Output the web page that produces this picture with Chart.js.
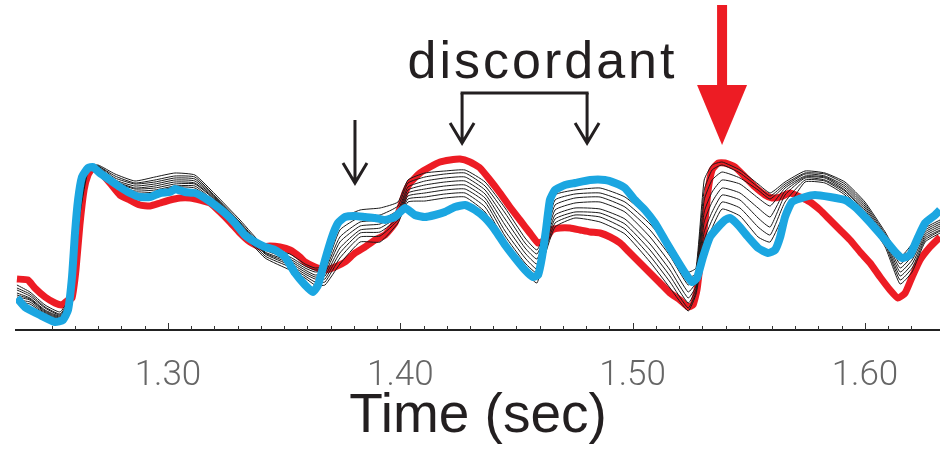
<!DOCTYPE html>
<html>
<head>
<meta charset="utf-8">
<script src="https://cdn.jsdelivr.net/npm/chart.js@4.4.1/dist/chart.umd.min.js"></script>
<style>
  body { margin: 0; background: #fff; }
  canvas { display: block; }
</style>
</head>
<body>
<canvas id="chartCanvas" width="940" height="453"></canvas>
<script>
// time axis (sec) and tick labels
const xMin = 1.2346;
const xMax = 1.6323;
const majorTicks = ['1.30', '1.40', '1.50', '1.60'];

// thick blue trace
const blueTime = [1.2350,1.2384,1.2449,1.2514,1.2548,1.2570,1.2587,1.2600,1.2613,1.2630,
  1.2656,1.2677,1.2707,1.2750,1.2793,1.2836,1.2879,1.2923,1.2966,1.3009,
  1.3030,1.3073,1.3116,1.3159,1.3202,1.3245,1.3288,1.3331,1.3375,1.3418,
  1.3461,1.3504,1.3547,1.3590,1.3624,1.3646,1.3676,1.3706,1.3732,1.3762,
  1.3805,1.3848,1.3891,1.3934,1.3977,1.4020,1.4063,1.4106,1.4149,1.4192,
  1.4235,1.4279,1.4322,1.4365,1.4408,1.4451,1.4494,1.4537,1.4571,1.4593,
  1.4610,1.4627,1.4644,1.4666,1.4709,1.4752,1.4817,1.4881,1.4924,1.4967,
  1.5010,1.5053,1.5096,1.5139,1.5183,1.5226,1.5256,1.5277,1.5303,1.5333,
  1.5368,1.5398,1.5419,1.5454,1.5497,1.5540,1.5583,1.5613,1.5635,1.5656,
  1.5686,1.5742,1.5785,1.5850,1.5914,1.5957,1.6000,1.6043,1.6087,1.6130,
  1.6160,1.6194,1.6229,1.6259,1.6302,1.6323];
const blueValue = [32,23,15,8,10,20,53,97,130,153,
  162,163,157,150,143,137,133,133,137,138,
  141,138,137,132,125,117,107,95,88,83,
  80,73,57,45,38,45,70,93,107,113,
  114,113,112,110,113,122,115,113,115,118,
  123,125,120,112,100,85,72,60,53,55,
  73,100,130,140,145,147,150,150,147,142,
  130,120,107,90,73,57,48,52,73,93,
  103,110,112,105,93,82,77,80,93,113,
  128,133,135,133,130,123,113,102,90,78,
  72,75,93,107,115,120];

// thick red trace
const redTime = [1.2350,1.2397,1.2427,1.2471,1.2514,1.2544,1.2570,1.2587,1.2604,1.2621,
  1.2639,1.2656,1.2677,1.2707,1.2750,1.2793,1.2836,1.2879,1.2923,1.2966,
  1.3009,1.3052,1.3095,1.3138,1.3181,1.3224,1.3267,1.3310,1.3353,1.3396,
  1.3439,1.3482,1.3525,1.3568,1.3590,1.3633,1.3676,1.3719,1.3762,1.3805,
  1.3848,1.3891,1.3934,1.3977,1.3999,1.4020,1.4042,1.4085,1.4128,1.4171,
  1.4214,1.4257,1.4300,1.4343,1.4386,1.4429,1.4472,1.4515,1.4558,1.4593,
  1.4623,1.4653,1.4687,1.4731,1.4774,1.4817,1.4860,1.4903,1.4946,1.4989,
  1.5032,1.5075,1.5118,1.5161,1.5204,1.5239,1.5260,1.5277,1.5294,1.5312,
  1.5325,1.5342,1.5368,1.5398,1.5441,1.5484,1.5527,1.5570,1.5600,1.5635,
  1.5678,1.5721,1.5764,1.5807,1.5850,1.5893,1.5936,1.5979,1.6022,1.6065,
  1.6108,1.6142,1.6173,1.6203,1.6237,1.6280,1.6323];
const redValue = [51,50,42,33,27,25,30,32,60,105,
  140,155,162,158,147,135,130,125,124,127,
  130,132,132,130,127,118,108,97,88,83,
  84,83,80,73,68,63,60,63,68,77,
  83,90,95,107,122,137,147,157,163,168,
  170,171,168,162,150,137,123,110,97,87,
  90,100,102,102,100,98,97,93,87,77,
  67,57,47,37,30,23,25,40,73,110,
  140,160,167,167,163,153,143,135,132,133,
  137,133,128,120,110,100,90,78,67,53,
  40,32,37,53,70,83,93];

// thin black traces, sampled on a shared time grid
const blackTime = [1.2350,1.2406,1.2471,1.2535,1.2570,1.2595,1.2621,1.2656,1.2699,1.2772,
  1.2858,1.2944,1.3030,1.3116,1.3202,1.3310,1.3418,1.3525,1.3590,1.3633,
  1.3676,1.3740,1.3827,1.3913,1.3990,1.4033,1.4106,1.4192,1.4279,1.4365,
  1.4451,1.4537,1.4588,1.4623,1.4666,1.4752,1.4860,1.4967,1.5075,1.5161,
  1.5239,1.5273,1.5308,1.5342,1.5385,1.5462,1.5540,1.5592,1.5656,1.5742,
  1.5828,1.5914,1.6000,1.6087,1.6151,1.6203,1.6259,1.6323];
const trace1 = [45,38,25,18,30,85,140,163,165,156,149,153,157,155,136,110,83,76,66,62,64,110,120,122,128,150,157,159,160,148,122,92,80,98,135,140,142,133,112,87,58,62,150,165,168,160,146,137,148,159,157,148,128,98,73,86,102,110];
const trace2 = [42,36,23,16,28,80,138,163,164,154,147,150,154,153,134,108,81,73,64,60,62,100,113,115,124,147,153,156,157,144,117,87,76,95,130,136,137,128,106,81,52,57,140,160,165,157,143,134,146,157,156,146,126,96,70,82,100,108];
const trace3 = [40,34,22,15,26,75,135,162,164,152,146,148,152,151,133,107,80,71,62,58,60,93,108,110,120,143,149,152,153,140,111,82,71,92,125,132,133,123,100,74,45,52,130,150,158,152,140,131,144,156,154,144,124,94,66,78,98,106];
const trace4 = [37,32,20,14,25,70,130,162,163,150,144,146,150,149,132,106,78,69,60,55,57,88,104,106,117,140,145,148,149,136,105,77,66,88,120,127,128,118,93,67,38,48,118,138,150,146,132,124,142,154,153,142,122,92,62,74,96,104];
const trace5 = [35,31,19,13,24,65,128,161,163,149,142,144,148,147,131,104,77,67,58,53,54,82,100,102,114,137,141,144,145,132,99,72,61,85,115,122,121,111,86,60,32,44,108,128,142,137,122,113,139,153,152,140,120,90,58,70,94,102];
const trace6 = [33,30,18,12,22,60,125,160,162,148,141,142,146,146,130,103,76,65,56,51,51,77,97,98,112,134,137,140,141,128,94,67,57,82,111,118,117,106,80,54,27,41,98,118,135,130,112,103,135,152,150,139,118,88,54,66,92,100];
const trace7 = [30,28,17,11,21,55,120,160,162,146,139,140,144,144,128,101,74,63,54,48,48,72,93,94,110,131,133,136,137,123,89,62,52,78,107,115,113,101,74,48,22,38,90,110,128,122,103,95,128,150,149,137,116,86,50,62,90,99];
const trace8 = [28,26,16,10,20,50,115,158,161,145,137,138,143,142,127,99,72,60,52,45,45,66,88,88,107,128,129,132,133,118,84,58,47,75,103,112,108,96,68,42,19,36,82,102,121,114,93,88,118,148,147,135,113,83,46,58,88,97];
const blackTraces = [trace1, trace2, trace3, trace4, trace5, trace6, trace7, trace8];

const toPoints = (ts, vs) => ts.map((t, i) => ({ x: t, y: vs[i] }));

const datasets = [
  { data: toPoints(blueTime, blueValue), borderColor: '#1ba6e1', borderWidth: 8, order: 0 },
  { data: toPoints(redTime, redValue), borderColor: '#ed1c24', borderWidth: 7, order: 2 }
];
blackTraces.forEach(tr => {
  datasets.push({ data: toPoints(blackTime, tr), borderColor: '#1a1a1a', borderWidth: 1, order: 1 });
});

function downArrow(ctx, px, top, tip) {
  ctx.beginPath();
  ctx.moveTo(px, top);
  ctx.lineTo(px, tip);
  ctx.moveTo(px - 12, tip - 20);
  ctx.lineTo(px, tip);
  ctx.lineTo(px + 12, tip - 20);
  ctx.stroke();
}

const annotate = {
  id: 'annotate',
  afterDraw(chart) {
    const { ctx, scales: { x, y } } = chart;
    const axisY = y.getPixelForValue(0);
    ctx.save();
    // inward tick marks
    ctx.strokeStyle = '#333';
    ctx.lineWidth = 1;
    x.ticks.forEach(t => {
      const c = Math.round(t.value * 100);
      if (Math.abs(t.value * 100 - c) > 1e-6) return;
      const px = Math.round(x.getPixelForValue(t.value)) + 0.5;
      ctx.beginPath();
      ctx.moveTo(px, axisY);
      ctx.lineTo(px, axisY - (c % 10 === 0 ? 7 : 4));
      ctx.stroke();
    });

    // black arrows
    ctx.strokeStyle = '#231f20';
    ctx.lineWidth = 3;
    ctx.lineJoin = 'miter';
    downArrow(ctx, x.getPixelForValue(1.3805), y.getPixelForValue(210), y.getPixelForValue(147));
    const bx1 = x.getPixelForValue(1.4266), bx2 = x.getPixelForValue(1.4804);
    const by = y.getPixelForValue(237);
    ctx.beginPath();
    ctx.moveTo(bx1 - 1.5, by);
    ctx.lineTo(bx2 + 1.5, by);
    ctx.stroke();
    downArrow(ctx, bx1, by, y.getPixelForValue(187));
    downArrow(ctx, bx2, by, y.getPixelForValue(187));

    // discordant label
    ctx.fillStyle = '#231f20';
    ctx.font = '52px "Liberation Sans", Arial, sans-serif';
    ctx.textAlign = 'center';
    ctx.textBaseline = 'alphabetic';
    ctx.letterSpacing = '3px';
    ctx.fillText('discordant', x.getPixelForValue(1.4612), y.getPixelForValue(252));
    ctx.letterSpacing = '0px';

    // red arrow
    const rx = x.getPixelForValue(1.5385);
    const headTop = y.getPixelForValue(245);
    ctx.fillStyle = '#ed1c24';
    ctx.fillRect(rx - 5, y.getPixelForValue(325), 10, headTop - y.getPixelForValue(325) + 2);
    ctx.beginPath();
    ctx.moveTo(rx - 25, headTop);
    ctx.lineTo(rx + 25, headTop);
    ctx.lineTo(rx, y.getPixelForValue(185));
    ctx.closePath();
    ctx.fill();
    ctx.restore();
  }
};

const ctx = document.getElementById('chartCanvas').getContext('2d');
const chart = new Chart(ctx, {
  type: 'line',
  data: { datasets },
  options: {
    responsive: false,
    animation: false,
    layout: { padding: { left: 16, right: 0, top: 0, bottom: 0 } },
    elements: { point: { radius: 0 }, line: { tension: 0.15, borderJoinStyle: 'round' } },
    scales: {
      x: {
        type: 'linear',
        min: xMin,
        max: xMax,
        afterFit: scale => {
          scale.height = 123;
          scale.paddingLeft = 0;
          scale.paddingRight = 0;
        },
        grid: { display: false, drawTicks: false },
        border: { display: true, color: '#222', width: 2 },
        ticks: {
          stepSize: 0.01,
          autoSkip: false,
          maxRotation: 0,
          padding: 25,
          color: '#666',
          font: { family: 'Roboto', size: 35, weight: '300' },
          callback: value => {
            const c = Math.round(value * 100);
            if (Math.abs(value * 100 - c) > 1e-6 || c % 10 !== 0) return '';
            const label = (c / 100).toFixed(2);
            return majorTicks.includes(label) ? label : '';
          }
        },
        title: {
          display: true,
          text: 'Time (sec)',
          color: '#231f20',
          font: { family: 'Liberation Sans', size: 55 },
          padding: { top: 0, bottom: 3 }
        }
      },
      y: { display: false, min: 0, max: 330 }
    },
    plugins: { legend: { display: false }, tooltip: { enabled: false } }
  },
  plugins: [annotate]
});
</script>
</body>
</html>
